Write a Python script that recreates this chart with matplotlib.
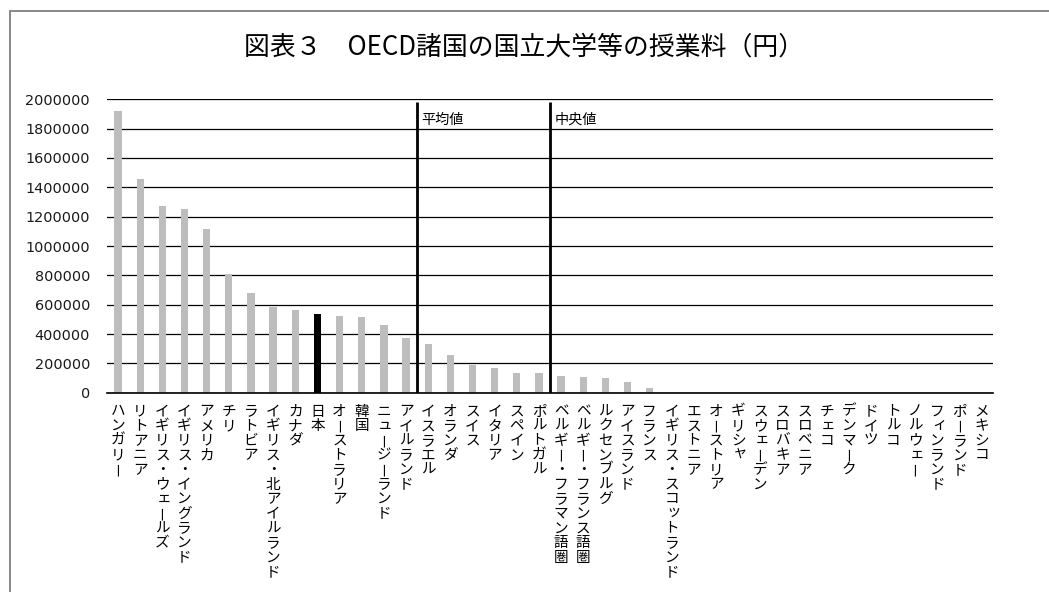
import numpy as np
import matplotlib.pyplot as plt
from matplotlib import transforms
from matplotlib.patches import Rectangle

# 国名と授業料（円）
countries = [
    "ハンガリー", "リトアニア", "イギリス・ウェールズ", "イギリス・イングランド",
    "アメリカ", "チリ", "ラトビア", "イギリス・北アイルランド", "カナダ", "日本",
    "オーストラリア", "韓国", "ニュージーランド", "アイルランド", "イスラエル",
    "オランダ", "スイス", "イタリア", "スペイン", "ポルトガル",
    "ベルギー・フラマン語圏", "ベルギー・フランス語圏", "ルクセンブルグ",
    "アイスランド", "フランス", "イギリス・スコットランド", "エストニア",
    "オーストリア", "ギリシャ", "スウェーデン", "スロバキア", "スロベニア",
    "チェコ", "デンマーク", "ドイツ", "トルコ", "ノルウェー", "フィンランド",
    "ポーランド", "メキシコ",
]
fees = [
    1920000, 1457000, 1272000, 1252000, 1116000, 809000, 680000, 584000,
    564000, 536000, 523000, 516000, 462000, 373000, 332000, 257000, 189000,
    168000, 134000, 134000, 114000, 107000, 100000, 73000, 32000,
    0, 0, 0, 0, 0, 0, 0, 0, 0, 0, 0, 0, 0, 0, 0,
]
highlight = "日本"
yticks = list(range(0, 2000001, 200000))
title = "図表３　OECD諸国の国立大学等の授業料（円）"

jp = ["Noto Sans CJK JP", "DejaVu Sans"]
W, H = 1049, 592
fig = plt.figure(figsize=(W / 100, H / 100), dpi=100)

# 外枠（左と上だけ見える）
fig.add_artist(Rectangle((9.5 / W, -0.1), 1.2, 1 - 11 / H + 0.1,
                         transform=fig.transFigure, fill=False,
                         edgecolor="#7f7f7f", lw=1.3))

ax = fig.add_axes([107 / W, 1 - 392.7 / H, (993 - 107) / W, (392.7 - 99.3) / H])
x = np.arange(len(countries))
colors = ["black" if c == highlight else "#bdbdbd" for c in countries]
ax.bar(x, fees, width=0.33, color=colors, zorder=3)

ax.set_xlim(-0.5, len(countries) - 0.5)
ax.set_ylim(0, 2000000)
ax.set_yticks(yticks)
ax.set_yticklabels([str(v) for v in yticks], fontsize=10.4, color="#1a1a1a")
ax.tick_params(axis="y", length=0, pad=12.2)
ax.set_xticks([])
ax.yaxis.grid(True, color="black", lw=0.9)
ax.axhline(0, color="black", lw=1.2, clip_on=False, zorder=4)
ax.set_axisbelow(True)
for s in ax.spines.values():
    s.set_visible(False)

# 平均値・中央値の線
vals = np.array(fees)
mean_x = (vals > vals.mean()).sum() - 0.5
median_x = (len(vals) - 1) / 2
for xv, lab in [(mean_x, "平均値"), (median_x, "中央値")]:
    ax.vlines(xv, 0, 1980000, color="black", lw=2, zorder=4)
    ax.annotate(lab, (xv, 1860000), xytext=(3, 0), textcoords="offset points",
                va="center", ha="left", fontsize=10.2, family=jp)

# 縦書きのラベル
em = 14.6
top_gap = 10
small = set("ッャュョァィゥェォ")
base = transforms.blended_transform_factory(ax.transData, ax.transAxes)
for i, name in enumerate(countries):
    for j, ch in enumerate(name):
        cell_top = top_gap + j * em
        if ch == "ー":
            tr = transforms.offset_copy(base, fig, x=0.1 * em, y=-(cell_top + em / 2), units="dots")
            ax.text(i, 0, ch, transform=tr, ha="center", va="center",
                    rotation=90, fontsize=10.5, family=jp)
        else:
            dx, dy = (0.1 * em, 0.1 * em) if ch in small else (0, 0)
            tr = transforms.offset_copy(base, fig, x=dx, y=-(cell_top + 0.88 * em) + dy, units="dots")
            ax.text(i, 0, ch, transform=tr, ha="center", va="baseline",
                    fontsize=10.5, family=jp)

fig.text(0.5, 1 - 47 / H, title, ha="center", va="center", fontsize=18.6, family=jp)

fig.savefig("out.png", dpi=100)
